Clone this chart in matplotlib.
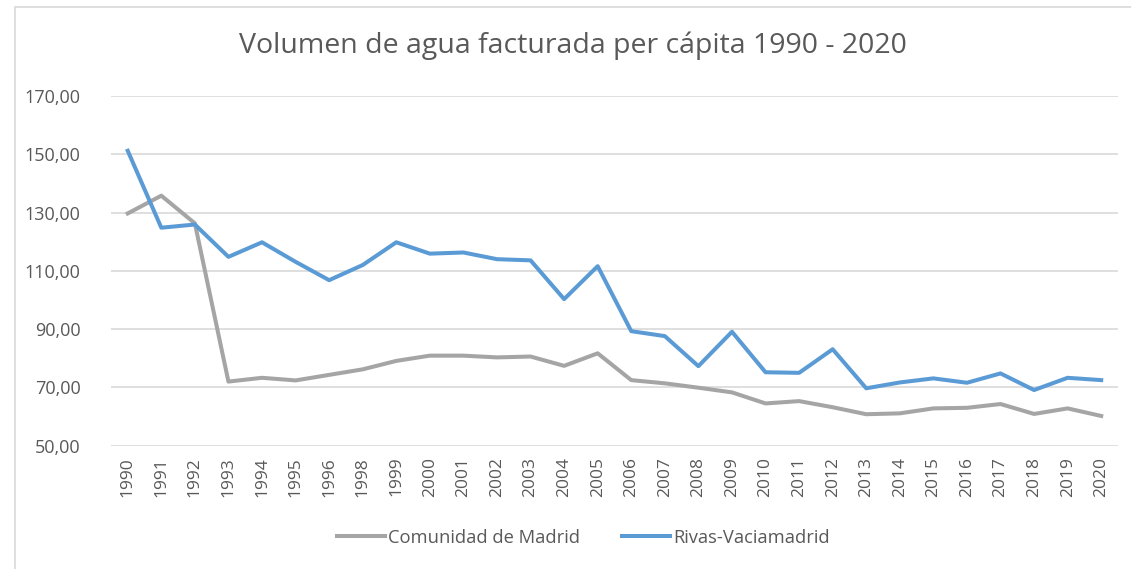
import matplotlib.pyplot as plt
from matplotlib.patches import Rectangle
from matplotlib.ticker import FuncFormatter

YEARS = ['1990', '1991', '1992', '1993', '1994', '1995', '1996', '1998', '1999', '2000',
         '2001', '2002', '2003', '2004', '2005', '2006', '2007', '2008', '2009', '2010',
         '2011', '2012', '2013', '2014', '2015', '2016', '2017', '2018', '2019', '2020']

MADRID = [129.7, 135.8, 126.3, 72.0, 73.3, 72.4, 74.3, 76.2, 79.1, 80.9,
          80.9, 80.3, 80.6, 77.4, 81.7, 72.5, 71.4, 69.9, 68.3, 64.5,
          65.3, 63.2, 60.8, 61.1, 62.8, 63.0, 64.3, 60.9, 62.8, 60.2]

RIVAS = [151.2, 124.8, 125.9, 114.8, 119.8, 113.1, 106.8, 112.0, 119.8, 115.9,
         116.3, 114.0, 113.6, 100.3, 111.6, 89.3, 87.6, 77.3, 89.1, 75.2,
         75.0, 83.1, 69.7, 71.7, 73.1, 71.6, 74.8, 69.1, 73.3, 72.5]

TICKS_Y = [50, 70, 90, 110, 130, 150, 170]

TEXT = '#595959'
GRID = '#D9D9D9'

plt.rcParams['font.family'] = ['Open Sans', 'DejaVu Sans']

fig = plt.figure(figsize=(11.31, 5.69), dpi=100)
ax = fig.add_axes([0.0981, 0.2167, 0.8904, 0.6146])

# outer chart border (only left/top visible in the crop)
fig.patches.append(Rectangle((15 / 1131, -0.1), 1.2, 1 - 7 / 569 + 0.1,
                             transform=fig.transFigure, fill=False,
                             edgecolor=GRID, linewidth=1.2))

x = list(range(len(YEARS)))
ax.plot(x, MADRID, color='#A5A5A5', linewidth=2.9, label='Comunidad de Madrid',
        solid_joinstyle='round')
ax.plot(x, RIVAS, color='#5B9BD5', linewidth=2.9, label='Rivas-Vaciamadrid',
        solid_joinstyle='round')

ax.set_xlim(-0.5, len(YEARS) - 0.5)
ax.set_ylim(50, 170)
ax.set_yticks(TICKS_Y)
ax.yaxis.set_major_formatter(FuncFormatter(lambda v, p: f'{v:.2f}'.replace('.', ',')))
ax.set_xticks(x)
ax.set_xticklabels(YEARS, rotation=90)

ax.grid(axis='y', color=GRID, linewidth=1.2)
ax.set_axisbelow(True)
for s in ax.spines.values():
    s.set_visible(False)
ax.tick_params(axis='both', length=0, colors=TEXT)
ax.tick_params(axis='y', labelsize=13, pad=22)
ax.tick_params(axis='x', labelsize=12.5, pad=8)

fig.text(0.507, 0.92, 'Volumen de agua facturada per cápita 1990 - 2020',
         ha='center', va='center', fontsize=20.5, color=TEXT)

ax.legend(loc='center', bbox_to_anchor=(0.516, 0.055), bbox_transform=fig.transFigure,
          ncol=2, frameon=False, fontsize=13.2, labelcolor=TEXT,
          handlelength=2.6, handletextpad=0.2, columnspacing=2.3)

fig.savefig('out.png', dpi=100, facecolor='white')
